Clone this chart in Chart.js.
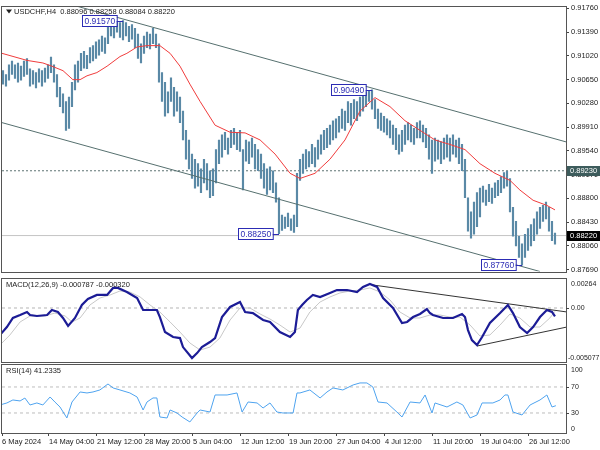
<!DOCTYPE html>
<html>
<head>
<meta charset="utf-8">
<script src="https://cdn.jsdelivr.net/npm/chart.js@4.4.1/dist/chart.umd.min.js"></script>
<style>
body{margin:0;background:#fff;width:600px;height:450px;overflow:hidden;position:relative}
canvas{position:absolute;left:0}
</style>
</head>
<body>
<canvas id="price" width="600" height="278" style="top:0px"></canvas>
<canvas id="macd" width="600" height="86" style="top:278px"></canvas>
<canvas id="rsi" width="600" height="86" style="top:364px"></canvas>
<script>
// H4 bars, two bars per point
var barHigh = [
 0.9079,0.9073,0.9088,0.9094,0.9088,0.9091,0.9086,0.9094,0.9098,0.9082,
 0.9079,0.9076,0.9082,0.9079,0.9083,0.9088,0.9100,0.9088,0.9073,0.9053,
 0.9043,0.9031,0.9038,0.9061,0.9088,0.9094,0.9106,0.9109,0.9103,0.9115,
 0.9118,0.9124,0.9127,0.9133,0.9130,0.9148,0.9153,0.9151,0.9155,0.9154,
 0.9157,0.9154,0.9148,0.9151,0.9145,0.9136,0.9121,0.9133,0.9139,0.9136,
 0.9145,0.9136,0.9121,0.9076,0.9061,0.9046,0.9068,0.9053,0.9046,0.9038,
 0.9016,0.8986,0.8971,0.8949,0.8941,0.8934,0.8926,0.8941,0.8934,0.8923,
 0.8926,0.8956,0.8971,0.8979,0.8983,0.8974,0.8986,0.8989,0.8983,0.8986,
 0.8956,0.8971,0.8968,0.8974,0.8964,0.8956,0.8949,0.8934,0.8926,0.8929,
 0.8923,0.8904,0.8881,0.8854,0.8851,0.8857,0.8848,0.8854,0.8919,0.8941,
 0.8949,0.8956,0.8953,0.8964,0.8959,0.8971,0.8979,0.8986,0.8989,0.8994,
 0.9001,0.9004,0.9008,0.9019,0.9016,0.9031,0.9028,0.9034,0.9031,0.9038,
 0.9043,0.9046,0.9047,0.9049,0.9034,0.9019,0.9013,0.9008,0.9004,0.9001,
 0.8994,0.8989,0.8979,0.8986,0.8994,0.8998,0.8994,0.8989,0.8998,0.9001,
 0.8994,0.8989,0.8979,0.8971,0.8974,0.8971,0.8968,0.8974,0.8979,0.8974,
 0.8979,0.8971,0.8974,0.8964,0.8941,0.8881,0.8859,0.8874,0.8889,0.8896,
 0.8899,0.8893,0.8902,0.8896,0.8904,0.8908,0.8914,0.8920,0.8922,0.8911,
 0.8866,0.8844,0.8821,0.8809,0.8824,0.8833,0.8839,0.8848,0.8859,0.8866,
 0.8869,0.8874,0.8866,0.8844,0.88258
];
var barLow = [
 0.9058,0.9055,0.9064,0.9073,0.9067,0.9061,0.9064,0.9070,0.9073,0.9055,
 0.9058,0.9052,0.9061,0.9055,0.9061,0.9067,0.9076,0.9061,0.9038,0.9023,
 0.9013,0.8986,0.8989,0.9023,0.9049,0.9061,0.9079,0.9083,0.9082,0.9091,
 0.9094,0.9098,0.9103,0.9109,0.9106,0.9121,0.9133,0.9130,0.9139,0.9131,
 0.9127,0.9133,0.9124,0.9128,0.9115,0.9098,0.9091,0.9106,0.9115,0.9113,
 0.9121,0.9115,0.9061,0.9031,0.9008,0.9013,0.9031,0.9008,0.9016,0.8998,
 0.8971,0.8941,0.8926,0.8911,0.8896,0.8899,0.8889,0.8904,0.8893,0.8881,
 0.8884,0.8904,0.8934,0.8944,0.8956,0.8949,0.8959,0.8964,0.8956,0.8953,
 0.8893,0.8938,0.8934,0.8944,0.8926,0.8923,0.8911,0.8896,0.8886,0.8893,
 0.8889,0.8874,0.8825,0.8830,0.8833,0.8836,0.8830,0.8827,0.8836,0.8908,
 0.8919,0.8926,0.8929,0.8934,0.8929,0.8941,0.8949,0.8956,0.8959,0.8964,
 0.8971,0.8974,0.8983,0.8989,0.8986,0.8998,0.8994,0.9004,0.9001,0.9008,
 0.9016,0.9023,0.9031,0.9019,0.9004,0.8989,0.8986,0.8983,0.8979,0.8974,
 0.8964,0.8956,0.8949,0.8953,0.8964,0.8971,0.8968,0.8964,0.8974,0.8974,
 0.8968,0.8959,0.8941,0.8919,0.8938,0.8941,0.8934,0.8941,0.8944,0.8938,
 0.8949,0.8944,0.8934,0.8923,0.8881,0.8829,0.8818,0.8824,0.8836,0.8851,
 0.8874,0.8869,0.8875,0.8872,0.8881,0.8884,0.8889,0.8896,0.8899,0.8859,
 0.8821,0.8806,0.8788,0.8776,0.8788,0.8799,0.8806,0.8814,0.8824,0.8833,
 0.8844,0.8848,0.8829,0.8814,0.88084
];

// moving average (red)
var smaX = [-0.33,8,13.3,16.3,20,23.3,25.7,28,31.3,34.7,39,41.3,44.7,48,52.3,55.7,59,62.3,65.7,70.7,75.7,80.7,85.7,90.7,95.7,99,104,109,114,119,124,129,134,139,144,149,154,159,164,169,172.3,176.7,181.3,184];
var smaY = [0.9106,0.9095,0.9091,0.9086,0.9079,0.9065,0.9065,0.9071,0.9076,0.9086,0.9101,0.9106,0.9116,0.9118,0.9118,0.9106,0.9086,0.9058,0.9031,0.8994,0.8983,0.8982,0.8971,0.8949,0.8919,0.8911,0.8919,0.8941,0.8971,0.9016,0.9037,0.9023,0.9001,0.8986,0.8971,0.8964,0.8956,0.8934,0.8919,0.8908,0.8893,0.8877,0.8869,0.8862];

// channel + levels
var upperX = [25,187.67], upperY = [0.9179,0.8968];
var lowerX = [-0.33,179], lowerY = [0.8998,0.8766];
var levelDotted = 0.8923;
var levelLast = 0.8822;
var markIdx = [40,123,92,173];
var markVal = [0.9157,0.9049,0.8825,0.8776];

var priceTicks = [0.91760,0.91390,0.91020,0.90650,0.90280,0.89910,0.89540,0.89170,0.88800,0.88430,0.88060,0.87690];

// MACD(12,26,9)
var macdX = [-1,1.3,3.3,5.7,8,9,11.3,14.7,16.3,18.3,20,21.7,24,26.3,28.3,31.3,34.7,36.7,38.3,41.3,44.7,46.7,51.3,52.3,54,56.7,59,60,63,64.7,66.3,69,70.7,73,75.7,79,80.7,83.3,86.7,89,92.3,95.7,97.3,98.3,99.7,101.3,103.3,105.7,109,111.3,114.7,118,120,122.3,124.7,126.7,130,133,134.7,136.7,139,141.3,142.3,143.3,146.7,150,153,154,155,156.3,158,159.7,162.3,165.7,168.3,170,172.3,174.7,176.7,179,181.3,183,184];
var macdMain = [-0.00257,-0.00181,-0.00095,-0.00067,-0.00038,-0.00067,-0.00076,-0.00067,-0.00019,-0.00038,-0.00095,-0.00171,-0.00095,0.00029,0.00086,0.00124,0.00124,0.00191,0.00191,0.00152,0.00095,-0.00019,-0.00019,-0.00086,-0.00229,-0.00276,-0.00286,-0.00372,-0.00476,-0.00429,-0.00372,-0.00324,-0.00286,-0.00086,0.00010,0.00057,-0.00038,-0.00048,-0.00114,-0.00133,-0.00229,-0.00276,-0.00229,-0.00019,0.00029,0.00076,0.00124,0.00105,0.00143,0.00171,0.00171,0.00152,0.00200,0.00229,0.00200,0.00095,0.0,-0.00143,-0.00133,-0.00086,-0.00057,-0.00010,-0.00048,-0.00067,-0.00095,-0.00095,-0.00057,-0.00086,-0.00210,-0.00305,-0.00352,-0.00276,-0.00143,-0.00048,0.00029,-0.00048,-0.00181,-0.00238,-0.00181,-0.00086,-0.00019,-0.00038,-0.000787];
var sigX = [-1,2.3,5.7,9,14,17.3,20.7,23,25.7,29,32.3,35.7,39,42.3,45.7,49,52.3,55.7,59,62.3,65.7,69,72.3,75.7,79,82.3,85.7,89,92.3,95.7,99,102.3,105.7,109,112.3,115.7,119,122.3,125.7,129,132.3,135.7,139,142.3,145.7,149,152.3,155.7,159,162.3,165.7,169,172.3,175.7,179,182.3,184];
var sigMain = [-0.00352,-0.00257,-0.00133,-0.00076,-0.00076,-0.00048,-0.00076,-0.00133,-0.00095,0.00029,0.00095,0.00124,0.00162,0.00152,0.00105,0.00029,-0.00038,-0.00133,-0.00229,-0.00333,-0.00400,-0.00372,-0.00286,-0.00114,0.0,0.0,-0.00057,-0.00105,-0.00162,-0.00229,-0.00191,-0.00038,0.00057,0.00105,0.00143,0.00162,0.00171,0.00191,0.00152,0.00076,-0.00038,-0.00095,-0.00095,-0.00067,-0.00067,-0.00086,-0.00086,-0.00162,-0.00267,-0.00257,-0.00162,-0.00057,-0.00095,-0.00181,-0.00181,-0.00095,-0.00032];
var triUpX = [123.3,188], triUpY = [0.00219,-0.00038];
var triLoX = [158,188], triLoY = [-0.00362,-0.00181];
var macdTicks = [0.00264,0,-0.005077];
var macdTickText = ['0.00264','0.00','-0.005077'];

// RSI(14)
var rsiX = [-1,1.3,3.3,5.7,7.3,9,11.3,13.3,15.7,17.3,19,21.3,23,25.7,28,30,32.3,35,36.7,39,42.3,44.7,46.7,48,50,51.3,52.3,54.7,55.7,58,59.7,62.3,64.7,65.7,69,70.7,74.7,78,79.7,81.7,84.7,86.7,89,91.3,93.3,96.7,98,99,102.3,105.7,108,110,113.3,116.7,119,121.3,123.3,125,128,131.3,133,135.7,139,140.7,143,144,148,151.3,153.3,155.7,158,159.7,163.3,165.7,167.3,168.3,170,173,175.7,179,181.3,183,184.3];
var rsiVal = [42.3,45.4,50,48.5,53,42.3,45.4,42.3,54.6,46.9,39.2,22.3,46.9,62.3,60.8,62.3,65.4,74.6,68.5,65.4,60.8,54.6,34.6,46.9,53.1,53.1,23.8,22.3,34.6,30,23.8,16.2,30,34.6,31.5,57.7,57.7,60.8,31.5,46.9,45.4,37.7,45.4,31.5,30,30,60.8,60.8,65.4,53.1,62.3,68.5,65.4,73.1,76.2,76.2,70,46.9,45.4,31.5,23.8,46.9,45.4,57.7,30,45.4,39.2,46.9,42.3,22.3,26.9,45.4,45.4,50,57.7,57.7,31.5,26.9,42.3,50,57.7,39.2,41.2];
var rsiTicks = [100,70,30,0];
var rsiTickText = ['100','70','30','0'];

// time axis
var timePos = [-0.33,15.33,31.33,47.33,63.33,79.33,95.33,111.33,127.33,143.33,159.33,175.33];
var timeLabels = ['6 May 2024','14 May 04:00','21 May 12:00','28 May 20:00','5 Jun 04:00','12 Jun 12:00','19 Jun 20:00','27 Jun 04:00','4 Jul 12:00','11 Jul 20:00','19 Jul 04:00','26 Jul 12:00'];

var FONT = '"Liberation Sans", Arial, sans-serif';
var XMIN = -0.33, XMAX = 187.67;

function pts(xs, ys) { return xs.map(function(x, i){ return {x: x, y: ys[i]}; }); }

function lineSet(data, color, width, order, dash) {
    return {type: 'line', data: data, borderColor: color, borderWidth: width, pointRadius: 0,
            tension: 0, fill: false, order: order, borderDash: dash || []};
}

function xScale(show) {
    var s = {
        type: 'linear', min: XMIN, max: XMAX, offset: false, display: show,
        grid: {display: false}
    };
    if (!show) return s;
    s.afterBuildTicks = function(sc){ sc.ticks = timePos.map(function(v){ return {value: v}; }); };
    s.afterFit = function(sc){ sc.height = 17; };
    s.grid = {drawOnChartArea: false, drawTicks: true, tickLength: 3, color: '#444', offset: false};
    s.border = {display: false};
    s.ticks = {autoSkip: false, maxRotation: 0, align: 'start', padding: 1, color: '#222',
               font: {family: FONT, size: 7.5},
               callback: function(v, i){ return timeLabels[i]; }};
    return s;
}

// frame round each panel
var framePlugin = {
    id: 'frame',
    afterDraw: function(chart) {
        var a = chart.chartArea, ctx = chart.ctx;
        ctx.save();
        ctx.strokeStyle = '#555';
        ctx.lineWidth = 1;
        ctx.strokeRect(Math.round(a.left) - 0.5, Math.round(a.top) - 0.5,
                       Math.round(a.right - a.left) + 1, Math.round(a.bottom - a.top) + 1);
        ctx.restore();
    }
};

// indicator titles and side labels
function panelText(title, vals, texts) {
    return {
        id: 'panelText',
        afterDraw: function(chart) {
            var a = chart.chartArea, ctx = chart.ctx, y = chart.scales.y;
            ctx.save();
            ctx.font = '7.5px ' + FONT;
            ctx.fillStyle = '#222';
            ctx.textBaseline = 'middle';
            ctx.fillText(title, a.left + 4, a.top + 6);
            ctx.strokeStyle = '#444';
            ctx.font = '7px ' + FONT;
            for (var i = 0; i < vals.length; i++) {
                var py = y.getPixelForValue(vals[i]);
                if (py > a.top + 3 && py < a.bottom - 3) {
                    ctx.beginPath();
                    ctx.moveTo(a.right, Math.round(py) + 0.5);
                    ctx.lineTo(a.right + 3, Math.round(py) + 0.5);
                    ctx.stroke();
                }
                var ty = Math.min(Math.max(py, a.top + 5), a.bottom - 4);
                var tx = Math.min(a.right + 5, chart.width - ctx.measureText(texts[i]).width - 0.5);
                ctx.fillText(texts[i], tx, ty);
            }
            ctx.restore();
        }
    };
}

var priceText = {
    id: 'priceText',
    afterDraw: function(chart) {
        var a = chart.chartArea, ctx = chart.ctx, xs = chart.scales.x, ys = chart.scales.y;
        ctx.save();
        ctx.font = '7.5px ' + FONT;
        ctx.textBaseline = 'middle';
        // title
        ctx.fillStyle = '#222';
        ctx.beginPath();
        ctx.moveTo(a.left + 4, a.top + 3); ctx.lineTo(a.left + 10, a.top + 3); ctx.lineTo(a.left + 7, a.top + 7);
        ctx.fill();
        ctx.fillText('USDCHF,H4  0.88096 0.88258 0.88084 0.88220', a.left + 12, a.top + 5);
        // high / low marks
        ctx.font = '8.5px ' + FONT;
        for (var i = 0; i < markIdx.length; i++) {
            var px = xs.getPixelForValue(markIdx[i]), py = Math.round(ys.getPixelForValue(markVal[i]));
            var t = markVal[i].toFixed(5), w = ctx.measureText(t).width + 4;
            var bx = Math.round(px - 6 - w);
            ctx.fillStyle = '#fff';
            ctx.fillRect(bx, py - 6, w, 11);
            ctx.strokeStyle = '#2c2cb4';
            ctx.lineWidth = 1;
            ctx.strokeRect(bx + 0.5, py - 5.5, w, 11);
            ctx.beginPath();
            ctx.moveTo(bx + w, py + 0.5); ctx.lineTo(px, py + 0.5);
            ctx.stroke();
            ctx.fillStyle = '#2c2cb4';
            ctx.fillText(t, bx + 2.5, py + 0.5);
        }
        // right side badges
        ctx.font = '7.5px ' + FONT;
        var badges = [[levelDotted, '#3d5c5c'], [levelLast, '#000']];
        badges.forEach(function(b) {
            var py = Math.round(ys.getPixelForValue(b[0]));
            ctx.fillStyle = b[1];
            ctx.fillRect(a.right + 1, py - 5, 33, 10);
            ctx.fillStyle = '#fff';
            ctx.fillText(b[0].toFixed(5), a.right + 4, py);
        });
        ctx.restore();
    }
};

var common = {
    responsive: false, animation: false, events: [],
    plugins: {legend: {display: false}, tooltip: {enabled: false}}
};

var bars = barHigh.map(function(h, i){ return {x: i, y: [barLow[i], h]}; });

new Chart(document.getElementById('price'), {
    type: 'bar',
    data: {datasets: [
        {type: 'bar', data: bars, backgroundColor: '#5a89a6', barThickness: 1.5, order: 2},
        lineSet(pts(smaX, smaY), '#f03c3c', 1, 0),
        lineSet(pts(upperX, upperY), '#56706f', 1, 1),
        lineSet(pts(lowerX, lowerY), '#56706f', 1, 1),
        lineSet(pts([XMIN, XMAX], [levelDotted, levelDotted]), '#5d7373', 1, 3, [2, 2]),
        lineSet(pts([XMIN, XMAX], [levelLast, levelLast]), '#c4c4c4', 1, 3)
    ]},
    options: Object.assign({}, common, {
        layout: {padding: {left: 2, top: 1, bottom: 1, right: 0}},
        scales: {
            x: xScale(false),
            y: {
                position: 'right', min: 0.87660, max: 0.91790,
                afterBuildTicks: function(s){ s.ticks = priceTicks.map(function(v){ return {value: v}; }); },
                afterFit: function(s){ s.width = 34; },
                grid: {drawOnChartArea: false, drawTicks: true, tickLength: 3, color: '#444'},
                border: {display: false},
                ticks: {padding: 2, color: '#222', font: {family: FONT, size: 7.5},
                        callback: function(v){ return v.toFixed(5); }}
            }
        }
    }),
    plugins: [framePlugin, priceText]
});

new Chart(document.getElementById('macd'), {
    type: 'line',
    data: {datasets: [
        lineSet(pts(macdX, macdMain), '#1c1c96', 2.2, 0),
        lineSet(pts(sigX, sigMain), '#c8c8c8', 1, 1),
        lineSet(pts([XMIN, XMAX], [0, 0]), '#b4b4b4', 1, 3, [3, 3]),
        lineSet(pts(triUpX, triUpY), '#333', 1, 2),
        lineSet(pts(triLoX, triLoY), '#333', 1, 2)
    ]},
    options: Object.assign({}, common, {
        layout: {padding: {left: 2, top: 1, bottom: 2, right: 0}},
        scales: {
            x: xScale(false),
            y: {position: 'right', min: -0.00514, max: 0.00276,
                afterFit: function(s){ s.width = 34; },
                grid: {display: false}, border: {display: false}, ticks: {display: false}}
        }
    }),
    plugins: [framePlugin, panelText('MACD(12,26,9) -0.000787 -0.000320', macdTicks, macdTickText)]
});

new Chart(document.getElementById('rsi'), {
    type: 'line',
    data: {datasets: [
        lineSet(pts(rsiX, rsiVal), '#4ea3ef', 1, 0),
        lineSet(pts([XMIN, XMAX], [70, 70]), '#bdbdbd', 1, 2, [3, 3]),
        lineSet(pts([XMIN, XMAX], [30, 30]), '#bdbdbd', 1, 2, [3, 3])
    ]},
    options: Object.assign({}, common, {
        layout: {padding: {left: 2, top: 1, bottom: 0, right: 0}},
        scales: {
            x: xScale(true),
            y: {position: 'right', min: -0.8, max: 103.8,
                afterFit: function(s){ s.width = 34; },
                grid: {display: false}, border: {display: false}, ticks: {display: false}}
        }
    }),
    plugins: [framePlugin, panelText('RSI(14) 41.2335', rsiTicks, rsiTickText)]
});
</script>
</body>
</html>
